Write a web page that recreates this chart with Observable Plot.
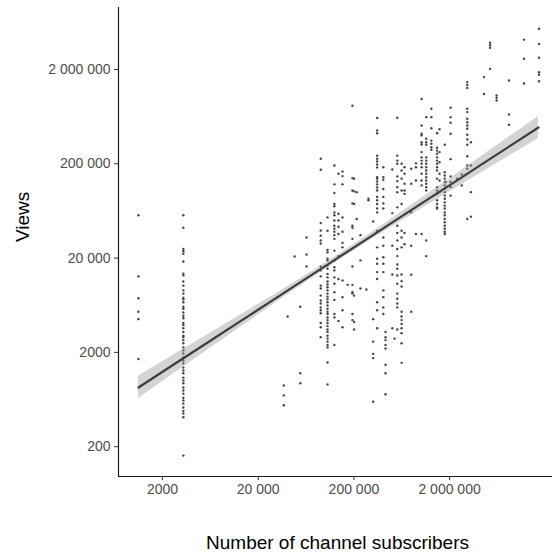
<!DOCTYPE html>
<html>
<head>
<meta charset="utf-8">
<script src="https://cdn.jsdelivr.net/npm/d3@7"></script>
<script src="https://cdn.jsdelivr.net/npm/@observablehq/plot@0.6"></script>
<style>
  html, body { margin: 0; padding: 0; background: #ffffff; }
  #chart { width: 552px; height: 556px; }
</style>
</head>
<body>
<div id="chart"></div>
<script>
// ---- Data ----
const channelSubs = [1120, 3300, 37000, 40600, 48000, 55000, 64000, 90000, 106000, 125000,
  138000, 152000, 172000, 193000, 201000, 214000, 234000, 270000, 284000, 318000,
  350000, 406000, 428000, 504000, 532000, 568000, 630000, 676000, 794000, 890000,
  1020000, 1140000, 1290000, 1480000, 1570000, 1780000, 1820000, 2050000, 2400000, 2680000,
  3060000, 3340000, 4580000, 5300000, 6200000, 8360000, 12000000, 17200000];

const channelViews = [
  [57000, 12800, 7500, 5400, 4500, 1700],
  [57000, 42000, 25000, 23700, 22200, 18400, 13700, 13100, 11300, 10200, 9100, 8400, 7600, 7300, 6800, 6100, 5800, 5300, 4900, 4600, 4100, 3900, 3600, 3300, 3000, 2900, 2700, 2500, 2260, 2100, 1950, 1770, 1640, 1530, 1380, 1290, 1200, 1080, 1010, 940, 850, 790, 730, 660, 620, 575, 520, 480, 450, 410, 161],
  [890, 700, 550],
  [4800],
  [20800],
  [6100, 1200, 940],
  [33000, 21800, 16300],
  [226000, 173000, 47000, 39200, 34600, 30800, 28600, 16300, 14800, 12800, 10200, 9500, 8000, 7100, 6600, 6000, 5600, 5200, 4100, 3700, 2900],
  [54000, 39000, 24400, 23000, 19700, 18900, 16700, 15400, 13600, 12500, 11300, 10500, 9800, 9100, 8400, 7800, 7300, 6800, 6300, 5800, 5400, 5100, 4700, 4400, 4100, 3800, 3500, 3300, 3000, 2800, 2600, 2400, 2260, 1560, 915],
  [192000, 121000, 98000, 75000, 71000, 61000, 57000, 50000, 44000, 41000, 38000, 35000, 32000, 24000, 18900, 16000, 14800, 12500, 10700, 8700, 7200, 5100, 4700, 2400],
  [157000, 59000, 50000, 43000, 36000, 21000, 12000, 4300],
  [166000, 148000, 121000, 54000, 38000, 29000, 26000, 11600, 7700, 5600, 3700],
  [10400],
  [824000, 141000, 104000, 76000, 44000, 42000, 32000, 16300, 10400, 8700, 8400, 5100, 4400],
  [139000, 102000, 75000, 8000, 4200, 3500],
  [100000, 52000],
  [35000, 18900, 9500],
  [9300],
  [85000, 82000],
  [49000, 4500, 2600, 1930, 1740, 600],
  [612000, 452000, 422000, 244000, 226000, 212000, 197000, 183000, 144000, 139000, 130000, 121000, 112000, 104000, 89000, 82000, 75000, 67000, 61000, 39000, 26000, 19700, 17400, 14200, 12000, 6800, 5600, 3600],
  [184000, 144000, 135000, 108000, 89000, 76000, 67000, 33000, 27000, 20400, 17400, 14200, 9100, 7700, 6000, 5100],
  [3300, 2900, 2700, 2400, 2200, 1480, 1200, 720],
  [174000, 60000, 27000, 13400, 3600],
  [2800],
  [616000, 244000, 216000, 200000, 147000, 131000, 113000, 100000, 69000, 44000, 37000, 30800, 25000, 21000, 17100, 15400, 13100, 10700, 8400, 7400, 6600, 6000, 3500],
  [200000, 170000, 139000, 104000, 75000, 39000, 33000, 26000, 13400, 11400, 10000, 5400, 4800, 4400, 4000, 3600, 3200, 2500, 1550],
  [184000, 157000, 123000, 104000, 96000, 37000, 28000],
  [177000, 123000, 61000, 27000, 13300, 5400],
  [203000, 184000, 133000, 36000],
  [974000, 510000, 416000, 400000, 338000, 320000, 266000, 234000, 216000, 200000, 184000, 157000, 133000, 118000, 36000],
  [624000, 368000, 338000, 318000, 234000, 216000, 200000, 184000, 170000, 157000, 144000, 133000, 123000, 113000, 104000, 30800, 21000],
  [766000, 624000, 476000, 352000, 326000, 300000, 282000],
  [422000, 296000, 276000, 256000, 234000, 216000, 200000, 184000, 170000, 139000, 113000, 104000, 96000, 82000, 75000, 69000, 67000],
  [466000, 266000, 208000, 157000, 133000, 100000],
  [318000, 163000, 150000, 139000, 128000, 118000, 109000, 100000, 92000, 85000, 78000, 72000, 67000, 61000, 57000, 52000, 48000, 44000, 41000, 38000, 36000],
  [128000],
  [784000, 624000, 544000, 416000, 224000, 147000, 128000, 113000, 92000],
  [139000],
  [154000, 118000],
  [1470000, 1370000, 1270000, 766000, 706000, 600000, 552000, 510000, 470000, 406000, 362000, 318000, 240000, 192000, 177000, 52000],
  [338000, 192000, 100000, 55000],
  [1660000, 1100000],
  [3840000, 3620000, 3400000, 2030000],
  [1060000, 1000000, 938000],
  [1530000, 666000, 518000],
  [4140000, 2600000, 1420000],
  [5400000, 3730000, 2660000, 1870000, 1760000, 1500000]
];

// Fitted line and confidence band
const fitSubs  = [1120, 3300, 13060, 43500, 145000, 482000, 1607000, 5350000, 17000000];
const fitViews = [849, 1734, 4285, 9474, 20940, 46340, 102400, 226500, 485300];
const fitLow   = [646, 1396, 3690, 8590, 19470, 42010, 88250, 183600, 371000];
const fitHigh  = [1117, 2153, 4977, 10450, 22540, 51080, 118900, 279500, 634800];

const xTicks = [2000, 20000, 200000, 2000000];
const xTickLabels = ["2000", "20 000", "200 000", "2 000 000"];
const yTicks = [200, 2000, 20000, 200000, 2000000];
const yTickLabels = ["200", "2000", "20 000", "200 000", "2 000 000"];

const xTitle = "Number of channel subscribers";
const yTitle = "Views";

// ---- Build tables ----
const points = channelSubs.flatMap((s, i) => channelViews[i].map(v => ({subs: s, views: v})));
const fit = fitSubs.map((s, i) => ({subs: s, views: fitViews[i], low: fitLow[i], high: fitHigh[i]}));

const xDomain = [693, 23.8e6];
const yDomain = [96.6, 9.08e6];
const font = "'Liberation Sans', Arial, Helvetica, sans-serif";

const chart = Plot.plot({
  width: 552,
  height: 556,
  marginLeft: 118,
  marginRight: 0,
  marginTop: 7,
  marginBottom: 80,
  style: {fontFamily: font, fontSize: "14px", background: "#ffffff", color: "#4d4d4d"},
  x: {type: "log", domain: xDomain, axis: null},
  y: {type: "log", domain: yDomain, axis: null},
  marks: [
    Plot.dot(points, {x: "subs", y: "views", r: 1.2, fill: "#444444", stroke: null}),
    Plot.areaY(fit, {x: "subs", y1: "low", y2: "high", fill: "#999999", fillOpacity: 0.42, curve: "natural"}),
    Plot.line(fit, {x: "subs", y: "views", stroke: "#3d3d3d", strokeWidth: 2.2, curve: "natural"}),
    Plot.ruleX([xDomain[0]], {stroke: "#1a1a1a", strokeWidth: 1.2}),
    Plot.ruleY([yDomain[0]], {stroke: "#1a1a1a", strokeWidth: 1.2}),
    Plot.axisX({
      ticks: xTicks,
      tickFormat: d => xTickLabels[xTicks.indexOf(d)],
      tickSize: 4,
      tickPadding: 4,
      stroke: "#333333",
      fill: "#4d4d4d",
      fontSize: 14,
      label: null
    }),
    Plot.axisY({
      ticks: yTicks,
      tickFormat: d => yTickLabels[yTicks.indexOf(d)],
      tickSize: 4,
      tickPadding: 4,
      stroke: "#333333",
      fill: "#4d4d4d",
      fontSize: 14,
      label: null
    }),
    Plot.text([xTitle], {text: d => d, frameAnchor: "bottom", dy: 72, dx: 2, fontSize: 19, fill: "#000000"}),
    Plot.text([yTitle], {text: d => d, frameAnchor: "left", dx: -96, dy: 0, rotate: -90, fontSize: 19, fill: "#000000"})
  ]
});

document.getElementById("chart").appendChild(chart);
</script>
</body>
</html>
